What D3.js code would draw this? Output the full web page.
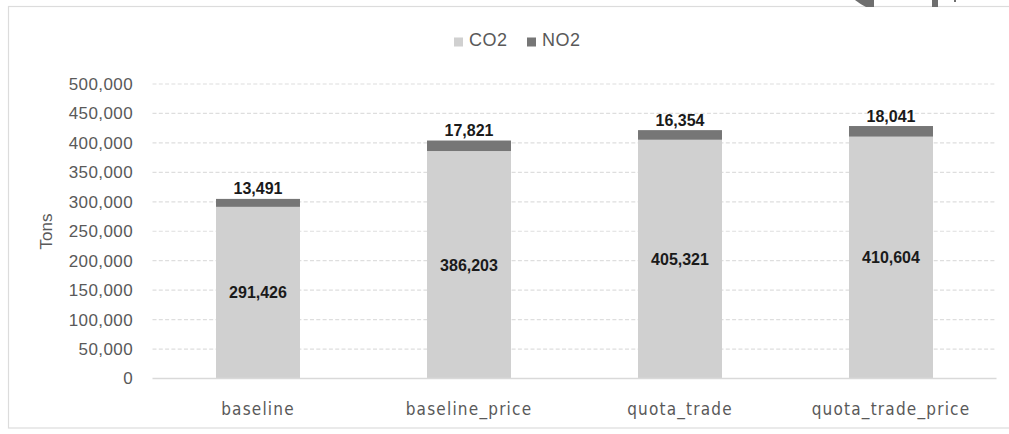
<!DOCTYPE html>
<html>
<head>
<meta charset="utf-8">
<script src="https://cdn.jsdelivr.net/npm/d3@7"></script>
<style>
  html, body { margin: 0; padding: 0; background: #fff; }
  svg { display: block; }
</style>
</head>
<body>
<svg id="chart" width="1009" height="434"></svg>
<script>
// Emissions per scenario, stacked CO2 + NO2 (tons)
const scenarios = ["baseline", "baseline_price", "quota_trade", "quota_trade_price"];
const co2Values = [291426, 386203, 405321, 410604];
const no2Values = [13491, 17821, 16354, 18041];
const seriesNames = ["CO2", "NO2"];
const seriesColors = ["#d0d0d0", "#767676"];
const yTickValues = [0, 50000, 100000, 150000, 200000, 250000, 300000, 350000, 400000, 450000, 500000];
const yTitle = "Tons";

const svg = d3.select("#chart");
const W = 1009, H = 434;
const plot = { left: 152.5, right: 996.5, top: 84, bottom: 378.5 };

// Outer chart frame
svg.append("rect")
  .attr("x", 8.5).attr("y", 6.5)
  .attr("width", 1010).attr("height", 421.5)
  .attr("fill", "#fff")
  .attr("stroke", "#dcdcdc").attr("stroke-width", 1.2);

// Small dark marks along the top edge
const marks = svg.append("g").attr("fill", "#6e6e6e");
marks.append("path").attr("d", "M855,0 L874,0 L874,7 L866,7 Q860,4 855,0 Z");
marks.append("rect").attr("x", 932).attr("y", 0).attr("width", 6).attr("height", 7);
marks.append("rect").attr("x", 954).attr("y", 0).attr("width", 2).attr("height", 2);

const rows = scenarios.map((s, i) => ({ scenario: s, CO2: co2Values[i], NO2: no2Values[i] }));
const stacked = d3.stack().keys(seriesNames)(rows);

const x = d3.scaleBand()
  .domain(scenarios)
  .range([plot.left, plot.right])
  .paddingInner(0.602)
  .paddingOuter(0.301);

const y = d3.scaleLinear()
  .domain([0, 500000])
  .range([plot.bottom, plot.top]);

const fmt = d3.format(",");

// Dashed horizontal gridlines
svg.append("g")
  .selectAll("line")
  .data(yTickValues.filter(v => v > 0))
  .join("line")
  .attr("x1", plot.left).attr("x2", plot.right)
  .attr("y1", d => y(d)).attr("y2", d => y(d))
  .attr("stroke", "#dedede")
  .attr("stroke-width", 1.2)
  .attr("stroke-dasharray", "4,2.3");

// Y axis labels
const yAxis = d3.axisLeft(y).tickValues(yTickValues).tickFormat(fmt).tickSize(0).tickPadding(0);
const yg = svg.append("g")
  .attr("transform", `translate(133,0)`)
  .call(yAxis);
yg.select(".domain").remove();
yg.selectAll("text")
  .attr("font-family", "'Liberation Sans', Arial, sans-serif")
  .attr("font-size", 17)
  .attr("letter-spacing", 0.4)
  .attr("fill", "#595959");

// Y axis title
svg.append("text")
  .attr("transform", `translate(52,231.5) rotate(-90)`)
  .attr("text-anchor", "middle")
  .attr("font-family", "'Liberation Sans', Arial, sans-serif")
  .attr("font-size", 17)
  .attr("fill", "#595959")
  .text(yTitle);

// Stacked bars
const layers = svg.append("g")
  .selectAll("g")
  .data(stacked)
  .join("g")
  .attr("fill", (d, i) => seriesColors[i]);

layers.selectAll("rect")
  .data(d => d)
  .join("rect")
  .attr("x", d => x(d.data.scenario))
  .attr("width", x.bandwidth())
  .attr("y", d => y(d[1]))
  .attr("height", d => y(d[0]) - y(d[1]));

// Category axis line
svg.append("line")
  .attr("x1", plot.left).attr("x2", plot.right)
  .attr("y1", plot.bottom).attr("y2", plot.bottom)
  .attr("stroke", "#d9d9d9").attr("stroke-width", 1.6);

// X axis category labels
const xAxis = d3.axisBottom(x).tickSize(0).tickPadding(0);
const xg = svg.append("g")
  .attr("transform", `translate(0,415)`)
  .call(xAxis);
xg.select(".domain").remove();
xg.selectAll("text")
  .attr("dy", 0)
  .attr("font-family", "'DejaVu Sans', sans-serif")
  .attr("font-stretch", "condensed")
  .attr("font-size", 17)
  .attr("letter-spacing", 1.2)
  .attr("fill", "#595959");

// Value labels: CO2 centered in its segment, NO2 above the bar
const labelFont = "'Liberation Sans', Arial, sans-serif";
svg.append("g")
  .selectAll("text")
  .data(stacked[0])
  .join("text")
  .attr("x", d => x(d.data.scenario) + x.bandwidth() / 2)
  .attr("y", d => (y(d[0]) + y(d[1])) / 2)
  .attr("dy", "0.36em")
  .attr("text-anchor", "middle")
  .attr("font-family", labelFont)
  .attr("font-size", 16)
  .attr("font-weight", "bold")
  .attr("fill", "#1a1a1a")
  .text(d => fmt(d.data.CO2));

svg.append("g")
  .selectAll("text")
  .data(stacked[1])
  .join("text")
  .attr("x", d => x(d.data.scenario) + x.bandwidth() / 2)
  .attr("y", d => y(d[1]) - 4.5)
  .attr("text-anchor", "middle")
  .attr("font-family", labelFont)
  .attr("font-size", 16)
  .attr("font-weight", "bold")
  .attr("fill", "#1a1a1a")
  .text(d => fmt(d.data.NO2));

// Legend
const legend = svg.append("g");
const legendItems = [
  { name: seriesNames[0], color: seriesColors[0], x: 454 },
  { name: seriesNames[1], color: seriesColors[1], x: 527 }
];
legendItems.forEach(it => {
  legend.append("rect")
    .attr("x", it.x).attr("y", 37.5)
    .attr("width", 9).attr("height", 9)
    .attr("fill", it.color);
  legend.append("text")
    .attr("x", it.x + 15).attr("y", 40)
    .attr("dy", "0.36em")
    .attr("font-family", "'Liberation Sans', Arial, sans-serif")
    .attr("font-size", 18)
    .attr("letter-spacing", 0.5)
    .attr("fill", "#595959")
    .text(it.name);
});
</script>
</body>
</html>
